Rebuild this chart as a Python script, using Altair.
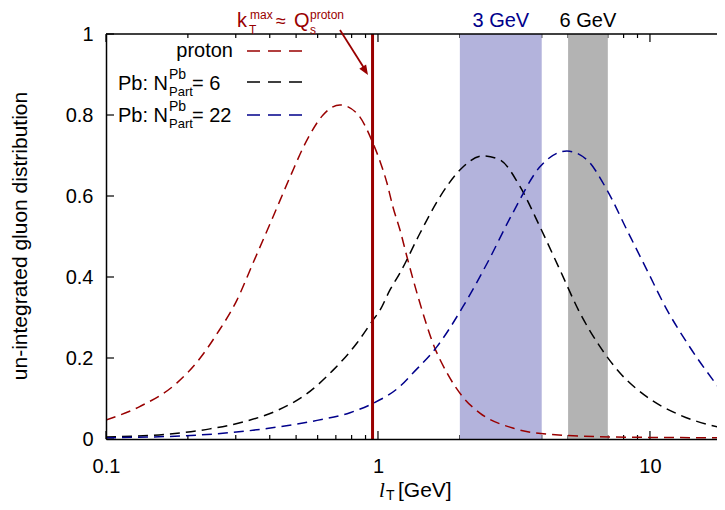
import altair as alt
import pandas as pd
import math

FONT = "Liberation Sans"
RED = "#990000"
BLUE = "#00008b"
BLACK = "#000000"

# ---- data ----
proton_x = [0.1, 0.133, 0.182, 0.222, 0.256, 0.303, 0.347, 0.411, 0.475, 0.548, 0.628, 0.725,
            0.837, 0.959, 1.017, 1.079, 1.135, 1.205, 1.278, 1.427, 1.593, 1.794, 2.05, 2.37,
            3.13, 4.18, 7.31, 18.5]
proton_y = [0.047, 0.080, 0.138, 0.20, 0.26, 0.343, 0.434, 0.548, 0.647, 0.738, 0.80, 0.825,
            0.804, 0.73, 0.686, 0.632, 0.573, 0.516, 0.45, 0.335, 0.236, 0.163, 0.104, 0.064,
            0.027, 0.012, 0.005, 0.003]

pb6_x = [0.1, 0.168, 0.241, 0.319, 0.425, 0.548, 0.684, 0.837, 0.959, 1.017, 1.107, 1.205,
         1.427, 1.690, 2.00, 2.43, 2.81, 3.33, 3.94, 4.67, 5.53, 6.55, 7.76, 9.75, 12.9, 18.5]
pb6_y = [0.005, 0.012, 0.025, 0.042, 0.07, 0.112, 0.17, 0.237, 0.294, 0.318, 0.368, 0.41,
         0.508, 0.598, 0.664, 0.699, 0.689, 0.623, 0.524, 0.417, 0.311, 0.228, 0.163, 0.104,
         0.059, 0.027]

pb22_x = [0.1, 0.222, 0.391, 0.597, 0.789, 0.959, 1.205, 1.345, 1.648, 2.05, 2.52,
          3.13, 3.94, 4.95, 5.87, 6.95, 8.23, 9.75, 11.55, 13.7, 18.5]
pb22_y = [0.003, 0.010, 0.026, 0.046, 0.065, 0.088, 0.13, 0.163, 0.228, 0.326, 0.434,
          0.558, 0.672, 0.711, 0.689, 0.615, 0.516, 0.417, 0.319, 0.237, 0.114]

series_names = ["proton", "Pb6", "Pb22"]
series_colors = [RED, BLACK, BLUE]

band_lo = [2.0, 5.0]
band_hi = [4.0, 7.0]
band_fill = ["#b3b3dc", "#b3b3b3"]
band_labels = ["3 GeV", "6 GeV"]
band_label_colors = [BLUE, BLACK]

kT_max = 0.955

x_major = [0.1, 1, 10]
x_minor = [0.2, 0.3, 0.4, 0.5, 0.6, 0.7, 0.8, 0.9, 2, 3, 4, 5, 6, 7, 8, 9]
y_major = [0, 0.2, 0.4, 0.6, 0.8, 1.0]

# ---- layout ----
W, H = 611, 405
xscale = alt.Scale(type="log", domain=[0.1, 17.64], nice=False)
yscale = alt.Scale(domain=[0, 1], nice=False)

xaxis = alt.Axis(values=x_major, format=".1~f", ticks=False, grid=False, title=None,
                 labelFont=FONT, labelFontSize=20, labelColor="black", labelPadding=17,
                 domainColor="black", domainWidth=1.5, zindex=1, labelFlush=False)
yaxis = alt.Axis(values=y_major, format=".1~f", ticks=False, grid=False, title=None,
                 labelFont=FONT, labelFontSize=20, labelColor="black", labelPadding=13,
                 domainColor="black", domainWidth=1.5, zindex=1)

curves = pd.concat([
    pd.DataFrame({"series": "proton", "x": proton_x, "y": proton_y}),
    pd.DataFrame({"series": "Pb6", "x": pb6_x, "y": pb6_y}),
    pd.DataFrame({"series": "Pb22", "x": pb22_x, "y": pb22_y}),
])

bands = pd.DataFrame({"lo": band_lo, "hi": band_hi, "fill": band_fill,
                      "label": band_labels, "tcolor": band_label_colors})
bands["mid"] = [math.sqrt(a * b) for a, b in zip(band_lo, band_hi)]


def xenc(field):
    return alt.X(field, type="quantitative", scale=xscale, axis=xaxis)


def yenc(field):
    return alt.Y(field, type="quantitative", scale=yscale, axis=yaxis)


def txt(s, x, y, size=20, color="black", align="left", style="normal", angle=0,
        baseline="alphabetic", font=FONT):
    return alt.Chart(alt.Data(values=[{"t": s}])).mark_text(
        align=align, baseline=baseline, font=font, fontSize=size, color=color,
        fontStyle=style, angle=angle
    ).encode(x=alt.value(x), y=alt.value(y), text="t:N")


layers = []

# ticks (inward)
xmaj = pd.DataFrame({"v": x_major})
xmin = pd.DataFrame({"v": x_minor})
ymaj = pd.DataFrame({"v": y_major})
layers.append(alt.Chart(xmaj).mark_rule(color="black", strokeWidth=1.2).encode(
    x=xenc("v"), y=alt.value(H), y2=alt.value(H - 8)))
layers.append(alt.Chart(xmin).mark_rule(color="black", strokeWidth=1.2).encode(
    x=xenc("v"), y=alt.value(H), y2=alt.value(H - 4)))
layers.append(alt.Chart(xmaj).mark_rule(color="black", strokeWidth=1.2).encode(
    x=xenc("v"), y=alt.value(0), y2=alt.value(8)))
layers.append(alt.Chart(xmin).mark_rule(color="black", strokeWidth=1.2).encode(
    x=xenc("v"), y=alt.value(0), y2=alt.value(4)))
layers.append(alt.Chart(ymaj).mark_rule(color="black", strokeWidth=1.2).encode(
    y=yenc("v"), x=alt.value(0), x2=alt.value(8)))

# shaded bands
layers.append(alt.Chart(bands).mark_rect(opacity=1).encode(
    x=xenc("lo"), x2="hi", y=alt.value(0), y2=alt.value(H),
    color=alt.Color("fill:N", scale=None)))
layers.append(alt.Chart(bands).mark_text(font=FONT, fontSize=20, baseline="alphabetic",
                                         align="center").encode(
    x=xenc("mid"), y=alt.value(-7), text="label:N",
    color=alt.Color("tcolor:N", scale=None)))

# curves
layers.append(alt.Chart(curves).mark_line(strokeDash=[10, 6], strokeWidth=1.5,
                                          interpolate="monotone", clip=True).encode(
    x=xenc("x"), y=yenc("y"),
    color=alt.Color("series:N", scale=alt.Scale(domain=series_names, range=series_colors),
                    legend=None),
    detail="series:N"))

# vertical line at kT max
layers.append(alt.Chart(pd.DataFrame({"v": [kT_max]})).mark_rule(color=RED, strokeWidth=3).encode(
    x=xenc("v"), y=alt.value(0), y2=alt.value(H)))

# top border
layers.append(alt.Chart(alt.Data(values=[{"a": 1}])).mark_rule(color="black", strokeWidth=1.5).encode(
    x=alt.value(0), x2=alt.value(W), y=alt.value(0)))

# legend
for yy, col in zip([17, 48, 81], series_colors):
    layers.append(alt.Chart(alt.Data(values=[{"a": 1}])).mark_rule(
        color=col, strokeWidth=1.5, strokeDash=[13, 8]).encode(
        x=alt.value(141), x2=alt.value(199), y=alt.value(yy)))

layers.append(txt("proton", 127, 23, align="right"))
layers.append(txt("Pb: N", 62, 56, align="right"))
layers.append(txt("Pb", 63, 45, size=14))
layers.append(txt("Part", 63, 62, size=13))
layers.append(txt("= 6", 86, 56))
layers.append(txt("Pb: N", 62, 88, align="right"))
layers.append(txt("Pb", 63, 77, size=14))
layers.append(txt("Part", 63, 94, size=13))
layers.append(txt("= 22", 86, 88))

# annotation k_T^max ≈ Q_s^proton
layers.append(txt("k", 131, -7, color=RED))
layers.append(txt("T", 143, 0, size=12, color=RED))
layers.append(txt("max", 144, -15, size=12, color=RED))
layers.append(txt("≈", 170, -7, size=18, color=RED))
layers.append(txt("Q", 188, -7, color=RED))
layers.append(txt("s", 204, 0, size=12, color=RED))
layers.append(txt("proton", 204, -15, size=12, color=RED))
layers.append(alt.Chart(alt.Data(values=[{"a": 1}])).mark_rule(color=RED, strokeWidth=1.8).encode(
    x=alt.value(234), y=alt.value(-4), x2=alt.value(258), y2=alt.value(34)))
layers.append(alt.Chart(alt.Data(values=[{"a": 1}])).mark_point(
    shape="M0,0 L-0.4,-1 L0.4,-1 Z", filled=True, size=400, angle=328, color=RED, opacity=1).encode(
    x=alt.value(262), y=alt.value(41)))

# axis titles
layers.append(txt("un-integrated gluon distribution", -85, 202, size=21, angle=270,
                  align="center", baseline="middle"))
layers.append(txt("l", 273, 463, size=21, style="italic", font="Liberation Serif"))
layers.append(txt("T", 280, 466, size=14))
layers.append(txt("[GeV]", 292, 463, size=21))

chart = alt.layer(*layers).properties(
    width=W, height=H,
    padding={"left": 98, "top": 26, "right": 0, "bottom": 63},
    autosize=alt.AutoSizeParams(type="none"),
).configure_view(stroke=None)

chart.save("out.html", embed_options={"renderer": "svg", "actions": False})
